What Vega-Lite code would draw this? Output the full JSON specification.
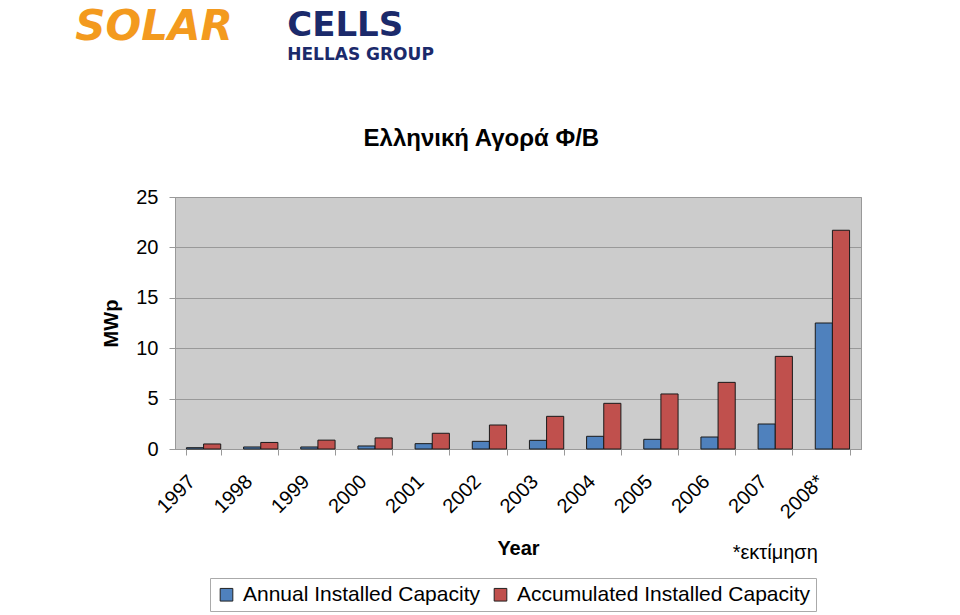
{
  "$schema": "https://vega.github.io/schema/vega-lite/v6.json",
  "padding": {"left": 75, "top": 5, "right": 5, "bottom": 0},
  "background": "white",
  "title": {"text": "SOLAR", "anchor": "start", "frame": "bounds", "orient": "top", "offset": 0, "dx": -26, "dy": 40, "font": "DejaVu Sans", "fontSize": 42, "fontStyle": "italic", "fontWeight": "bold", "color": "#F39A1E"},
  "vconcat": [
    {
      "title": {"text": "CELLS", "subtitle": "HELLAS GROUP", "anchor": "start", "frame": "bounds", "offset": 64, "dx": 186, "font": "DejaVu Sans", "fontSize": 34, "fontWeight": "bold", "color": "#1B2A6B", "subtitleFont": "DejaVu Sans", "subtitleFontSize": 17, "subtitleFontWeight": "bold", "subtitleColor": "#1B2A6B", "subtitlePadding": 4},
      "vconcat": [
        {
          "title": {"text": "Ελληνική Αγορά Φ/Β", "anchor": "middle", "frame": "bounds", "offset": 36, "fontSize": 24, "fontWeight": "bold", "color": "black", "font": "Liberation Sans"},
          "width": 686,
          "height": 252,
          "layer": [
            {
              "data": {"values": [
                {"Year": "1997", "Series": "Annual Installed Capacity", "Value": 0.13},
                {"Year": "1997", "Series": "Accumulated Installed Capacity", "Value": 0.5},
                {"Year": "1998", "Series": "Annual Installed Capacity", "Value": 0.2},
                {"Year": "1998", "Series": "Accumulated Installed Capacity", "Value": 0.65},
                {"Year": "1999", "Series": "Annual Installed Capacity", "Value": 0.2},
                {"Year": "1999", "Series": "Accumulated Installed Capacity", "Value": 0.88},
                {"Year": "2000", "Series": "Annual Installed Capacity", "Value": 0.3},
                {"Year": "2000", "Series": "Accumulated Installed Capacity", "Value": 1.1},
                {"Year": "2001", "Series": "Annual Installed Capacity", "Value": 0.53},
                {"Year": "2001", "Series": "Accumulated Installed Capacity", "Value": 1.56},
                {"Year": "2002", "Series": "Annual Installed Capacity", "Value": 0.76},
                {"Year": "2002", "Series": "Accumulated Installed Capacity", "Value": 2.38},
                {"Year": "2003", "Series": "Annual Installed Capacity", "Value": 0.86},
                {"Year": "2003", "Series": "Accumulated Installed Capacity", "Value": 3.24},
                {"Year": "2004", "Series": "Annual Installed Capacity", "Value": 1.26},
                {"Year": "2004", "Series": "Accumulated Installed Capacity", "Value": 4.53},
                {"Year": "2005", "Series": "Annual Installed Capacity", "Value": 0.96},
                {"Year": "2005", "Series": "Accumulated Installed Capacity", "Value": 5.46},
                {"Year": "2006", "Series": "Annual Installed Capacity", "Value": 1.19},
                {"Year": "2006", "Series": "Accumulated Installed Capacity", "Value": 6.61},
                {"Year": "2007", "Series": "Annual Installed Capacity", "Value": 2.48},
                {"Year": "2007", "Series": "Accumulated Installed Capacity", "Value": 9.19},
                {"Year": "2008*", "Series": "Annual Installed Capacity", "Value": 12.5},
                {"Year": "2008*", "Series": "Accumulated Installed Capacity", "Value": 21.7}
              ]},
              "mark": {"type": "bar", "stroke": "#1a1a1a", "strokeWidth": 1},
              "encoding": {
                "x": {"field": "Year", "type": "nominal", "sort": null,
                  "scale": {"paddingInner": 0.4, "paddingOuter": 0.2},
                  "axis": {"title": "Year", "labelAngle": -45, "labelFontSize": 20, "labelOffset": -19, "labelPadding": 16, "tickBand": "extent", "tickSize": 6, "titlePadding": 16, "titleFontSize": 20, "titleFontWeight": "bold", "labelColor": "black", "titleColor": "black", "domainColor": "#999999", "tickColor": "#999999", "grid": false}},
                "xOffset": {"field": "Series", "type": "nominal", "sort": ["Annual Installed Capacity", "Accumulated Installed Capacity"], "scale": {"paddingInner": 0, "paddingOuter": 0}},
                "y": {"field": "Value", "type": "quantitative",
                  "scale": {"domain": [0, 25], "nice": false},
                  "axis": {"title": "MWp", "values": [0, 5, 10, 15, 20, 25], "labelFontSize": 20, "labelPadding": 11, "tickSize": 6, "tickColor": "#999999", "domainColor": "#999999", "gridColor": "#999999", "titleFontSize": 20, "titleFontWeight": "bold", "titlePadding": 14, "labelColor": "black", "titleColor": "black"}},
                "color": {"field": "Series", "type": "nominal",
                  "scale": {"domain": ["Annual Installed Capacity", "Accumulated Installed Capacity"], "range": ["#4F81BD", "#C0504D"]},
                  "legend": {"title": null, "orient": "none", "legendX": 35, "legendY": 381, "direction": "horizontal", "strokeColor": "#aaaaaa", "padding": 6, "symbolType": "square", "symbolSize": 160, "symbolStrokeColor": "#222222", "symbolStrokeWidth": 1, "labelFontSize": 21, "labelColor": "black", "labelLimit": 0, "columnPadding": 10, "labelOffset": 6, "fillColor": "white"}}
              }
            },
            {
              "data": {"values": [{"Year": "2007", "note": "*εκτίμηση"}]},
              "mark": {"type": "text", "fontSize": 20, "dy": 104, "baseline": "middle", "color": "black"},
              "encoding": {
                "x": {"field": "Year", "type": "nominal", "sort": null},
                "y": {"datum": 0, "type": "quantitative"},
                "text": {"field": "note"}
              }
            }
          ]
        }
      ]
    }
  ],
  "config": {
    "font": "Liberation Sans",
    "view": {"fill": "#CCCCCC", "stroke": "#999999"}
  }
}
